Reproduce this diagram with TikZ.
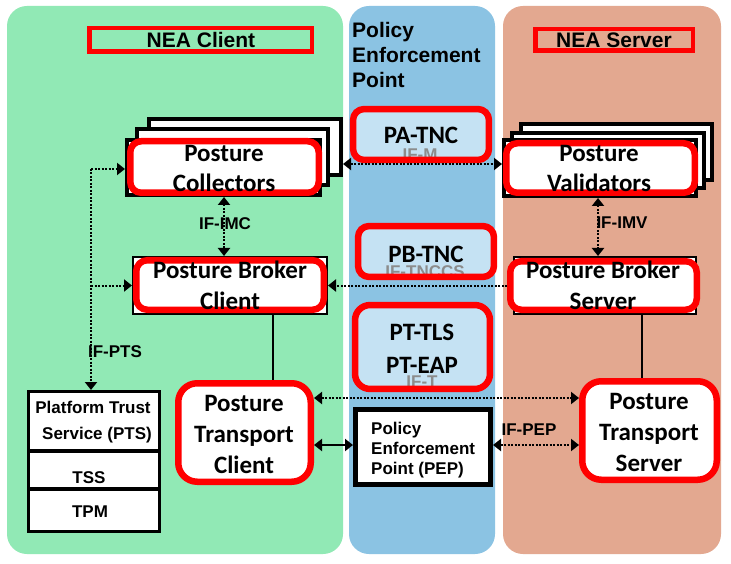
\documentclass[tikz,border=0pt]{standalone}
\usepackage{fontspec}
\setmainfont{Liberation Sans}
\newfontfamily\calfont{Carlito}
\usetikzlibrary{arrows.meta}
\definecolor{pgreen}{HTML}{91E9B5}
\definecolor{pblue}{HTML}{8BC3E3}
\definecolor{psalmon}{HTML}{E3A890}
\definecolor{lblue}{HTML}{C5E2F3}
\definecolor{graytxt}{HTML}{8C8C8C}
\tikzset{
  sz/.style 2 args={minimum width=#1pt, minimum height=#2pt},
  panel/.style={rounded corners=20pt},
  titlebox/.style={draw=red, line width=4.5pt, inner sep=0},
  redbox/.style={draw=red, line width=6.5pt, fill=white, rounded corners=11pt, inner sep=0},
  redrim/.style={red, line width=6.5pt, rounded corners=11pt},
  blkbox/.style={draw=black, line width=4pt, fill=white, inner sep=0},
  thinbox/.style={draw=black, line width=2pt, fill=white, inner sep=0},
  lbl/.style={font=\bfseries\fontsize{17}{20}\selectfont, inner sep=0},
  graylbl/.style={lbl, text=graytxt},
  big/.style={font=\calfont\bfseries\fontsize{25}{30}\selectfont, inner sep=0},
  ttl/.style={font=\bfseries\fontsize{21}{25}\selectfont, inner sep=0},
  tip/.tip={Triangle[length=8pt,width=12pt]},
  dotarr/.style={line width=2pt, dash pattern=on 2pt off 1.5pt},
  solidline/.style={line width=1.6pt}
}
\begin{document}
\begin{tikzpicture}[x=1pt,y=-1pt]
\useasboundingbox (0,0) rectangle (731,564);
\fill[white] (0,0) rectangle (731,564);
% panels
\fill[pgreen, panel] (7,6) rectangle (343,554);
\fill[pblue, panel] (349,6) rectangle (495,554);
\fill[psalmon, panel] (503,6) rectangle (721,554);

% titles
\node[titlebox, sz={222.5}{23.5}] (nc) at (200.5,40) {};
\node[ttl] (nct) at (201,40) {NEA Client};
\node[titlebox, sz={157.5}{21.5}] (ns) at (614,40) {};
\node[ttl] (nst) at (614,40.5) {NEA Server};
\node[ttl, anchor=base west] (pep1) at (352,38) {Policy};
\node[ttl, anchor=base west] (pep2) at (352,63) {Enforcement};
\node[ttl, anchor=base west] (pep3) at (352,88) {Point};

% collectors stack
\node[blkbox, sz={192}{56}] (cback) at (245,147) {};
\node[blkbox, sz={191}{56}] (cmid) at (232.5,157) {};
\node[blkbox, sz={193}{55}] (cfrontb) at (223.5,167.5) {};
\node[redbox, sz={188.5}{51.5}] (cfront) at (224.5,167) {};
\node[big, anchor=base] (ct1) at (224,162) {Posture};
\node[big, anchor=base] (ct2) at (224,192) {Collectors};

% validators stack
\node[blkbox, sz={191}{56}] (vback) at (616.5,152) {};
\node[blkbox, sz={192}{55}] (vmid) at (608,160.5) {};
\node[blkbox, sz={192}{56}] (vfrontb) at (600,168) {};
\node[redbox, sz={188.5}{49.5}] (vfront) at (600.5,168) {};
\node[big, anchor=base] (vt1) at (599,162) {Posture};
\node[big, anchor=base] (vt2) at (599,192) {Validators};

% PA-TNC
\node[fill=lblue, rounded corners=11pt, sz={135.5}{50.5}, inner sep=0] (pa) at (421,134.5) {};
\node[graylbl, anchor=base] (ifm) at (420,161) {IF-M};
\draw[redrim] (pa.north west) rectangle (pa.south east);
\node[big, anchor=base] (pat) at (421,144) {PA-TNC};

% PB-TNC
\node[fill=lblue, rounded corners=11pt, sz={135.5}{50.5}, inner sep=0] (pb) at (426,251.5) {};
\node[graylbl, anchor=base] (iftnccs) at (425,277) {IF-TNCCS};
\draw[redrim] (pb.north west) rectangle (pb.south east);
\node[big, anchor=base] (pbt) at (426,262) {PB-TNC};

% PT-TLS / PT-EAP
\node[fill=lblue, rounded corners=15pt, sz={134.5}{83.5}, inner sep=0] (pt) at (422.5,347) {};
\node[graylbl, anchor=base] (ift) at (422,387) {IF-T};
\draw[redrim, rounded corners=15pt] (pt.north west) rectangle (pt.south east);
\node[big, anchor=base] (ptt1) at (422,340) {PT-TLS};
\node[big, anchor=base] (ptt2) at (422,373) {PT-EAP};

% broker client
\node[thinbox, sz={194}{57}] (pbcb) at (230,285.5) {};
\node[redbox, sz={187.5}{49.5}] (pbc) at (230,285) {};
\node[big, anchor=base] (pbct1) at (230,279) {Posture Broker};
\node[big, anchor=base] (pbct2) at (230,309) {Client};

% broker server
\node[thinbox, sz={182}{57}] (pbsb) at (605,285.5) {};
\node[redbox, sz={186.5}{48.5}] (pbs) at (603.5,285.5) {};
\node[big, anchor=base] (pbst1) at (603,279) {Posture Broker};
\node[big, anchor=base] (pbst2) at (603,309) {Server};

% transport client
\node[redbox, rounded corners=19pt, sz={132.5}{98.5}] (ptc) at (244.5,432.5) {};
\node[big, anchor=base] (ptct1) at (244,411) {Posture};
\node[big, anchor=base] (ptct2) at (244,442) {Transport};
\node[big, anchor=base] (ptct3) at (244,473) {Client};

% transport server
\node[redbox, rounded corners=19pt, sz={134.5}{98.5}] (ptsv) at (649.5,430.5) {};
\node[big, anchor=base] (ptst1) at (649,409) {Posture};
\node[big, anchor=base] (ptst2) at (649,440) {Transport};
\node[big, anchor=base] (ptst3) at (649,471) {Server};

% PTS stack
\node[draw=black, line width=3.3pt, fill=white, inner sep=0, sz={130.7}{139.7}] (pts) at (94,461.5) {};
\draw[line width=3.3pt] (pts.west |- 0,451) -- (pts.east |- 0,451);
\draw[line width=3.3pt] (pts.west |- 0,489) -- (pts.east |- 0,489);
\node[lbl, anchor=base] (ptst1a) at (93,413) {Platform Trust};
\node[lbl, anchor=base] (ptst1b) at (97,439) {Service (PTS)};
\node[lbl, anchor=base] (tss) at (89,483) {TSS};
\node[lbl, anchor=base] (tpm) at (90,517) {TPM};

% PEP box
\node[draw=black, line width=5pt, fill=white, inner sep=0, sz={135}{75}] (pep) at (423,447) {};
\node[lbl, anchor=base west] (pept1) at (371,434) {Policy};
\node[lbl, anchor=base west] (pept2) at (371,454) {Enforcement};
\node[lbl, anchor=base west] (pept3) at (371,474) {Point (PEP)};

% connectors
\coordinate (y164) at (0,164);
\coordinate (x224) at (224,0);
\coordinate (x598) at (598,0);
\coordinate (c1) at (91,169);
\coordinate (x273) at (273,0);
\coordinate (x642) at (642,0);
\coordinate (y398) at (0,398);
\coordinate (y445) at (0,445);

\draw[dotarr, tip-tip] (cback.east |- y164) -- (vfrontb.west |- y164);
\draw[dotarr, tip-tip] (cfrontb.south -| x224) -- (pbcb.north -| x224);
\draw[dotarr, tip-tip] (vfrontb.south -| x598) -- (pbsb.north -| x598);
\draw[dotarr, -tip] (c1) -- (c1 -| cfrontb.west);
\draw[dotarr, -tip] (c1) -- (c1 |- pts.north);
\draw[dotarr, -tip] (c1 |- pbcb.west) -- (pbcb.west);
\draw[dotarr, -tip] (pbs.west) -- (pbcb.east);
\draw[solidline] (pbcb.south -| x273) -- (ptc.north -| x273);
\draw[solidline] (pbsb.south -| x642) -- (ptsv.north -| x642);
\draw[dotarr, tip-tip] (ptc.east |- y398) -- (ptsv.west |- y398);
\draw[line width=2pt, tip-tip] (ptc.east |- y445) -- (pep.west |- y445);
\draw[dotarr, tip-tip] (pep.east |- y445) -- (ptsv.west |- y445);

% interface labels
\node[lbl, anchor=base] (ifimc) at (225,230) {IF-IMC};
\node[lbl, anchor=base] (ifimv) at (622,229) {IF-IMV};
\node[lbl, anchor=base] (ifpts) at (115,357) {IF-PTS};
\node[lbl, anchor=base] (ifpep) at (529,435) {IF-PEP};
\end{tikzpicture}
\end{document}
